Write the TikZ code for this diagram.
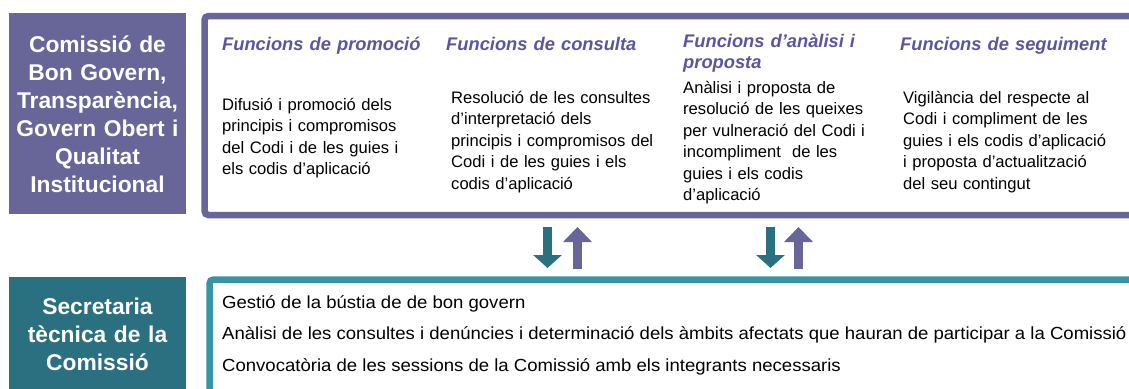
\documentclass[tikz,border=0pt]{standalone}
\usepackage{fontspec}
\setmainfont{Liberation Sans}
\newfontfamily\itemfont[FakeStretch=1.06]{Liberation Sans}
\usetikzlibrary{arrows.meta}
\definecolor{purp}{HTML}{686599}
\definecolor{headp}{HTML}{5B55A0}
\definecolor{tealdark}{HTML}{2A7080}
\definecolor{teallight}{HTML}{3893A6}
\tikzset{
  titlebox/.style={fill=#1, draw=none, inner sep=0pt},
  titletext/.style={text=white, align=center, inner sep=0pt, text width=175pt,
    font=\fontsize{22.8}{28}\selectfont\bfseries},
  frame/.style={draw=#1, line width=6.5pt, rounded corners=4pt, inner sep=0pt},
  heading/.style={anchor=base west, inner sep=0pt, text=headp, align=left, text width=210pt,
    font=\fontsize{18.3}{21}\selectfont\bfseries\itshape},
  bodytext/.style={anchor=base west, inner sep=0pt, text=black, align=left, text width=215pt,
    font=\fontsize{16.6}{21.5}\selectfont},
  itemtext/.style={anchor=base west, inner sep=0pt, text=black,
    font=\itemfont\fontsize{17.5}{20}\selectfont},
  downarrow/.style={draw=tealdark, line width=9pt, -{Triangle[width=28pt,length=13pt]}},
  uparrow/.style={draw=purp, line width=9pt, -{Triangle[width=28pt,length=15pt]}},
}
\begin{document}
\begin{tikzpicture}[x=1pt,y=-1pt]
\useasboundingbox (0,0) rectangle (1129,388);
\clip (0,0) rectangle (1129,388);
% left title boxes
\node[titlebox=purp, minimum width=177pt, minimum height=201pt] (cbox) at (97.5,113.5) {};
\node[titletext] (ctext) at (97.5,114) {Comissió de\\Bon Govern,\\Transparència,\\Govern Obert i\\Qualitat\\Institucional};
\node[titlebox=tealdark, minimum width=177pt, minimum height=126pt] (sbox) at (97.5,340) {};
\node[titletext] (stext) at (97.5,334) {Secretaria\\tècnica de la\\Comissió};
% frames
\node[frame=purp, minimum width=960pt, minimum height=199pt] (funcs) at (684.5,115.5) {};
\node[frame=teallight, minimum width=960pt, minimum height=160pt] (secr) at (689.5,359.5) {};
% headings
\node[heading] (h1) at (222,50) {Funcions de promoció};
\node[heading] (h2) at (446,50) {Funcions de consulta};
\node[heading] (h3) at (683,47) {Funcions d’anàlisi i\\proposta};
\node[heading] (h4) at (900,50) {Funcions de seguiment};
% bodies
\node[bodytext] (b1) at (222,110) {Difusió i promoció dels\\principis i compromisos\\del Codi i de les guies i\\els codis d’aplicació};
\node[bodytext] (b2) at (451,103) {Resolució de les consultes\\d’interpretació dels\\principis i compromisos del\\Codi i de les guies i els\\codis d’aplicació};
\node[bodytext] (b3) at (683,93) {Anàlisi i proposta de\\resolució de les queixes\\per vulneració del Codi i\\incompliment\ \ de les\\guies i els codis\\d’aplicació};
\node[bodytext] (b4) at (903,103) {Vigilància del respecte al\\Codi i compliment de les\\guies i els codis d’aplicació\\i proposta d’actualització\\del seu contingut};
% secretaria items
\node[itemtext] (i1) at (222,308) {Gestió de la bústia de de bon govern};
\node[itemtext] (i2) at (222,339.5) {Anàlisi de les consultes i denúncies i determinació dels àmbits afectats que hauran de participar a la Comissió};
\node[itemtext] (i3) at (222,371) {Convocatòria de les sessions de la Comissió amb els integrants necessaris};
% arrows
\coordinate (d1s) at (547.5,227); \coordinate (d1e) at (547.5,268);
\coordinate (u1s) at (577.5,269); \coordinate (u1e) at (577.5,227);
\coordinate (d2s) at (770.5,227); \coordinate (d2e) at (770.5,268);
\coordinate (u2s) at (798.5,269); \coordinate (u2e) at (798.5,227);
\draw[downarrow] (d1s) -- (d1e);
\draw[uparrow] (u1s) -- (u1e);
\draw[downarrow] (d2s) -- (d2e);
\draw[uparrow] (u2s) -- (u2e);
\end{tikzpicture}
\end{document}
